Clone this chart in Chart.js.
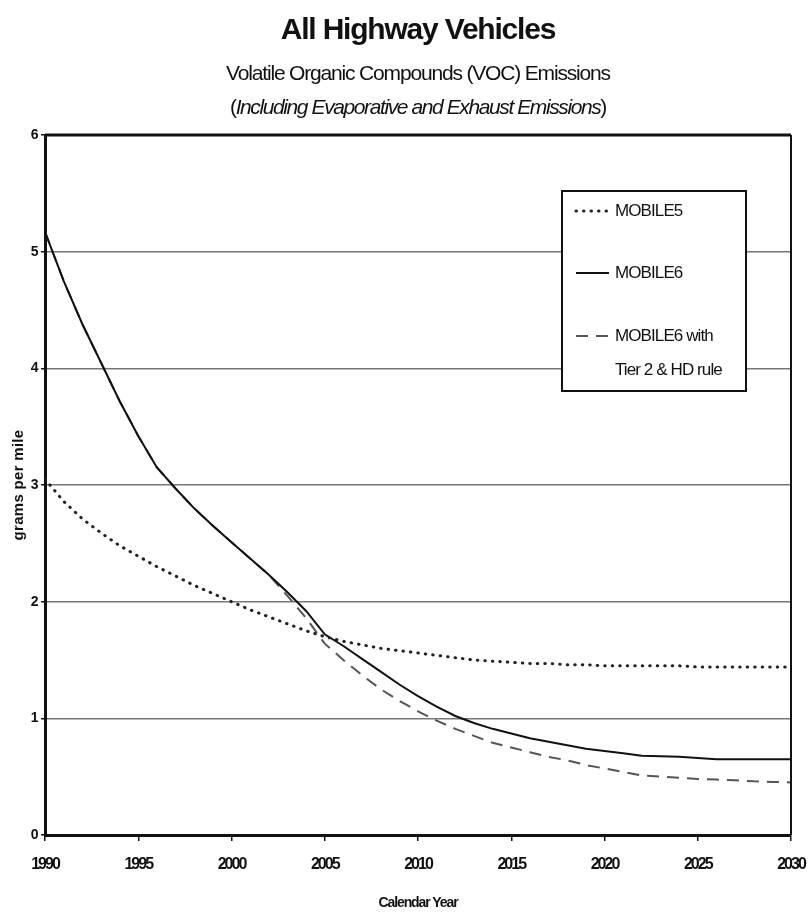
<!DOCTYPE html>
<html>
<head>
<meta charset="utf-8">
<script src="https://cdn.jsdelivr.net/npm/chart.js@4.4.1/dist/chart.umd.min.js"></script>
<style>
    body { margin: 0; background: #fff; }
    #wrap { position: relative; width: 808px; height: 917px; }
    #grafico { position: absolute; left: 0; top: 0; }
    .ttl {
        position: absolute; left: 45px; width: 746px; text-align: center;
        font-family: 'Liberation Sans', Arial, sans-serif;
        color: #111; white-space: nowrap; line-height: 24px;
    }
    #t1 { top: 17px; font-size: 30px; font-weight: bold; letter-spacing: -1.2px; }
    #t2 { top: 61px; font-size: 21px; letter-spacing: -1.17px; }
    #t3 { top: 95px; font-size: 21px; letter-spacing: -1.4px; }
</style>
</head>
<body>
<div id="wrap">
    <canvas id="grafico" width="808" height="917"></canvas>
    <div class="ttl" id="t1">All Highway Vehicles</div>
    <div class="ttl" id="t2">Volatile Organic Compounds (VOC) Emissions</div>
    <div class="ttl" id="t3">(<i>Including Evaporative and Exhaust Emissions</i>)</div>
</div>
<script>
const anos = [1990, 1991, 1992, 1993, 1994, 1995, 1996, 1997, 1998, 1999,
              2000, 2001, 2002, 2003, 2004, 2005, 2006, 2007, 2008, 2009,
              2010, 2011, 2012, 2013, 2014, 2015, 2016, 2017, 2018, 2019,
              2020, 2021, 2022, 2023, 2024, 2025, 2026, 2027, 2028, 2029, 2030];

const mobile5 = [3.05, 2.86, 2.71, 2.59, 2.48, 2.39, 2.30, 2.22, 2.14, 2.07,
                 2.00, 1.93, 1.87, 1.81, 1.75, 1.70, 1.66, 1.63, 1.60, 1.58,
                 1.56, 1.54, 1.52, 1.50, 1.49, 1.48, 1.47, 1.47, 1.46, 1.46,
                 1.45, 1.45, 1.45, 1.45, 1.45, 1.44, 1.44, 1.44, 1.44, 1.44, 1.44];

const mobile6 = [5.17, 4.75, 4.38, 4.05, 3.72, 3.42, 3.15, 2.97, 2.80, 2.65,
                 2.51, 2.37, 2.23, 2.08, 1.92, 1.72, 1.62, 1.51, 1.40, 1.29,
                 1.19, 1.10, 1.02, 0.96, 0.91, 0.87, 0.83, 0.80, 0.77, 0.74,
                 0.72, 0.70, 0.68, 0.675, 0.67, 0.66, 0.65, 0.65, 0.65, 0.65, 0.65];

const mobile6Tier2 = [5.17, 4.75, 4.38, 4.05, 3.72, 3.42, 3.15, 2.97, 2.80, 2.65,
                      2.51, 2.37, 2.23, 2.05, 1.86, 1.64, 1.50, 1.37, 1.25, 1.15,
                      1.06, 0.98, 0.91, 0.85, 0.79, 0.75, 0.71, 0.67, 0.64, 0.60,
                      0.57, 0.54, 0.51, 0.50, 0.49, 0.48, 0.475, 0.47, 0.46, 0.455, 0.45];

const ticksX = [1990, 1995, 2000, 2005, 2010, 2015, 2020, 2025, 2030];
const ticksY = [0, 1, 2, 3, 4, 5, 6];

const rotulos = [['MOBILE5'], ['MOBILE6'], ['MOBILE6 with', 'Tier 2 & HD rule']];

const fonte = "'Liberation Sans', Arial, sans-serif";
Chart.defaults.font.family = fonte;
Chart.defaults.color = '#111';

// espaçamento das letras por eixo (a fonte estreita do original não existe aqui)
const espacamento = {
    x: { labels: '-2px', title: '-1.1px' },
    y: { labels: '-0.5px', title: '0.3px' }
};

function pontos(valores) {
    return anos.map((a, i) => ({ x: a, y: valores[i] }));
}

function comEspaco(scale, metodo, esp) {
    const orig = scale[metodo];
    if (orig._espacado) return;
    const novo = function (...args) {
        const ctx = this.ctx;
        ctx.save();
        ctx.letterSpacing = esp;
        orig.apply(this, args);
        ctx.restore();
    };
    novo._espacado = true;
    scale[metodo] = novo;
}

const condensado = {
    id: 'condensado',
    afterLayout(chart) {
        Object.keys(espacamento).forEach(id => {
            const s = chart.scales[id];
            comEspaco(s, 'drawLabels', espacamento[id].labels);
            comEspaco(s, 'drawTitle', espacamento[id].title);
        });
    }
};

// moldura do gráfico + legenda em caixa
const molduraLegenda = {
    id: 'molduraLegenda',
    afterDatasetsDraw(chart) {
        const { ctx, chartArea: a } = chart;
        ctx.save();
        ctx.strokeStyle = '#111';
        ctx.lineWidth = 3;
        ctx.beginPath();
        ctx.moveTo(a.left, a.top);
        ctx.lineTo(a.right, a.top);
        ctx.stroke();
        ctx.lineWidth = 2;
        ctx.beginPath();
        ctx.moveTo(a.right, a.top);
        ctx.lineTo(a.right, a.bottom);
        ctx.stroke();

        const bx = 562, by = 191, bw = 184, bh = 200;
        ctx.fillStyle = '#fff';
        ctx.fillRect(bx, by, bw, bh);
        ctx.lineWidth = 2;
        ctx.strokeRect(bx, by, bw, bh);

        const linhasY = [211, 273, 336];
        ctx.font = '17px ' + fonte;
        ctx.letterSpacing = '-0.9px';
        ctx.textBaseline = 'middle';
        chart.data.datasets.forEach((ds, i) => {
            const y = linhasY[i];
            ctx.save();
            ctx.strokeStyle = ds.borderColor;
            ctx.lineWidth = ds.borderWidth;
            ctx.lineCap = ds.borderCapStyle || 'butt';
            ctx.setLineDash(ds.borderDash || []);
            ctx.beginPath();
            ctx.moveTo(576, y);
            ctx.lineTo(609, y);
            ctx.stroke();
            ctx.restore();
            ctx.fillStyle = '#111';
            rotulos[i].forEach((t, j) => ctx.fillText(t, 615, y + j * 34));
        });
        ctx.restore();
    }
};

new Chart(document.getElementById('grafico'), {
    type: 'line',
    data: {
        datasets: [
            {
                label: 'MOBILE5',
                data: pontos(mobile5),
                borderColor: '#222',
                borderWidth: 3,
                borderDash: [0.5, 7],
                borderCapStyle: 'round',
                pointRadius: 0,
                tension: 0
            },
            {
                label: 'MOBILE6',
                data: pontos(mobile6),
                borderColor: '#111',
                borderWidth: 2,
                pointRadius: 0,
                tension: 0
            },
            {
                label: 'MOBILE6 with Tier 2 & HD rule',
                data: pontos(mobile6Tier2),
                borderColor: '#555',
                borderWidth: 2,
                borderDash: [12, 8],
                pointRadius: 0,
                tension: 0
            }
        ]
    },
    options: {
        responsive: false,
        animation: false,
        layout: { padding: { top: 135, right: 17, left: 0, bottom: 0 } },
        plugins: {
            legend: { display: false },
            tooltip: { enabled: false }
        },
        scales: {
            x: {
                type: 'linear',
                min: 1990,
                max: 2030,
                afterBuildTicks: s => { s.ticks = ticksX.map(v => ({ value: v })); },
                afterFit: s => { s.height = 82; s.paddingLeft = 0; s.paddingRight = 0; },
                ticks: {
                    callback: v => String(v),
                    font: { size: 16, weight: 'bold' },
                    padding: 14,
                    maxRotation: 0
                },
                grid: { drawOnChartArea: false, tickLength: 6, color: '#111', lineWidth: 1.5 },
                border: { color: '#111', width: 3 },
                title: {
                    display: true,
                    text: 'Calendar Year',
                    font: { size: 14, weight: 'bold' },
                    padding: { top: 4, bottom: 5 }
                }
            },
            y: {
                min: 0,
                max: 6,
                afterBuildTicks: s => { s.ticks = ticksY.map(v => ({ value: v })); },
                afterFit: s => { s.width = 45; s.paddingTop = 0; s.paddingBottom = 0; },
                ticks: {
                    font: { size: 14, weight: 'bold' },
                    padding: 3
                },
                grid: { color: '#777', lineWidth: 1.5, tickLength: 4, tickColor: '#111' },
                border: { color: '#111', width: 3 },
                title: {
                    display: true,
                    text: 'grams per mile',
                    font: { size: 15, weight: 'bold' },
                    padding: { top: 10, bottom: 0 }
                }
            }
        }
    },
    plugins: [condensado, molduraLegenda]
});
</script>
</body>
</html>
